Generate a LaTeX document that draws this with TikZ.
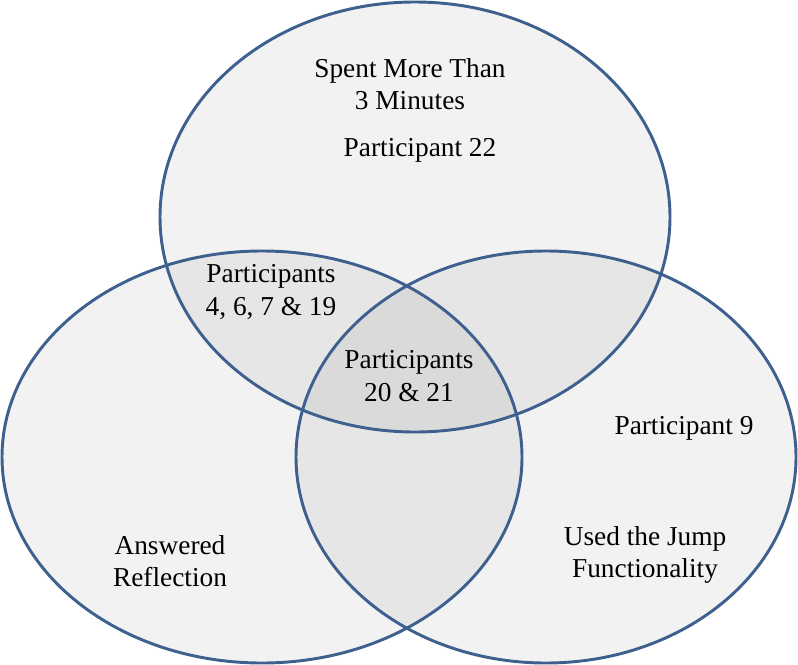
\documentclass[tikz,border=0pt]{standalone}
\usepackage{fontspec}
\setmainfont{Liberation Serif}
\usepackage{tikz}

\definecolor{ringblue}{RGB}{62,96,142}

\begin{document}
\begin{tikzpicture}[x=0.75pt,y=-0.75pt,
    set/.style={fill=black,fill opacity=0.05},
    ring/.style={draw=ringblue,line width=2.2pt},
    lbl/.style={align=center,font=\fontsize{20.5}{24.5}\selectfont,inner sep=0pt}]
    \useasboundingbox (0,0) rectangle (798,664);
    % the three sets
    \fill[set] (415,217) ellipse [x radius=255, y radius=215];
    \fill[set] (262,457) ellipse [x radius=260, y radius=206];
    \fill[set] (546,457) ellipse [x radius=250, y radius=206];
    \draw[ring] (415,217) ellipse [x radius=255, y radius=215];
    \draw[ring] (262,457) ellipse [x radius=260, y radius=206];
    \draw[ring] (546,457) ellipse [x radius=250, y radius=206];
    % labels
    \node[lbl] (T) at (410,84) {Spent More Than\\3 Minutes};
    \node[lbl] (T2) at (420,150) {Participant 22};
    \node[lbl] (TL) at (271,292) {Participants\\4, 6, 7 \& 19};
    \node[lbl] (C) at (409,376) {Participants\\20 \& 21};
    \node[lbl] (R2) at (684,428) {Participant 9};
    \node[lbl] (L) at (170,561) {Answered\\Reflection};
    \node[lbl] (R) at (645,555) {Used the Jump\\Functionality};
\end{tikzpicture}
\end{document}
